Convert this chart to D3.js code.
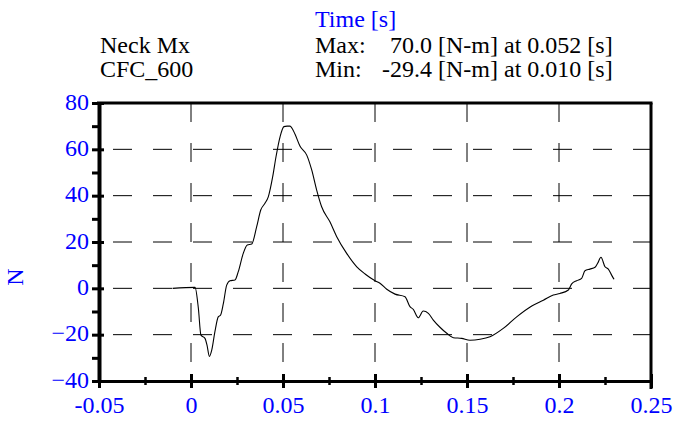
<!DOCTYPE html>
<html>
<head>
<meta charset="utf-8">
<script src="https://cdn.jsdelivr.net/npm/d3@7"></script>
<style>
  html, body { margin: 0; padding: 0; background: #fff; }
  svg { display: block; }
  text { font-family: "Liberation Serif", "Times New Roman", serif; }
</style>
</head>
<body>
<div id="chart"></div>
<script>
// ---- data ----
const timeValues = [-0.01, 0.0022, 0.0040, 0.0054, 0.0076, 0.0087, 0.0100, 0.0113, 0.0130, 0.0148,
  0.0161, 0.0176, 0.0194, 0.0212, 0.0239, 0.0257, 0.0284, 0.0306, 0.0330, 0.0357,
  0.0379, 0.0402, 0.0420, 0.0444, 0.0462, 0.0484, 0.0505, 0.0522, 0.0538, 0.0549,
  0.0565, 0.0592, 0.0629, 0.0656, 0.0683, 0.0710, 0.0755, 0.0792, 0.0846, 0.0901,
  0.0946, 0.1000, 0.1027, 0.1064, 0.1109, 0.1163, 0.1190, 0.1208, 0.1235, 0.1262,
  0.1290, 0.1317, 0.1353, 0.1390, 0.1426, 0.1471, 0.1516, 0.1571, 0.1625, 0.1697,
  0.1770, 0.1852, 0.1915, 0.1969, 0.2005, 0.2051, 0.2069, 0.2096, 0.2123, 0.2141,
  0.2168, 0.2196, 0.2210, 0.2228, 0.2250, 0.2268, 0.2286, 0.2299];
const momentValues = [0, 0.4, -8.6, -20.2, -21.6, -24.5, -29.4, -26.6, -18.7, -12.3,
  -11.5, -6.5, 1.4, 3.3, 3.6, 7.2, 15.1, 18.7, 19.1, 26.6,
  33.8, 36.7, 39.5, 48.2, 56.8, 65.4, 69.8, 70.0, 70.0, 69.1,
  66.6, 61.4, 57.5, 51.1, 42.4, 35.2, 28.7, 22.3, 15.1, 9.3,
  6.2, 3.3, 2.2, -0.4, -2.5, -3.6, -7.9, -9.1, -12.7, -9.8,
  -10.8, -13.7, -16.8, -19.4, -21.3, -21.6, -22.4, -22.0, -20.9, -17.3,
  -12.3, -7.6, -5.1, -2.9, -2.2, -0.7, 1.9, 3.3, 4.3, 7.6,
  8.3, 9.1, 10.8, 13.4, 9.3, 8.3, 5.7, 3.9];
const xMajorTicks = [-0.05, 0, 0.05, 0.1, 0.15, 0.2, 0.25];
const xMinorTicks = [-0.025, 0.025, 0.075, 0.125, 0.175, 0.225];
const yMajorTicks = [-40, -20, 0, 20, 40, 60, 80];
const yMinorTicks = [-30, -10, 10, 30, 50, 70];
const xGridValues = [0, 0.05, 0.1, 0.15, 0.2];
const yGridValues = [-20, 0, 20, 40, 60];
const xTickLabels = ["-0.05", "0", "0.05", "0.1", "0.15", "0.2", "0.25"];
const headerLeft = ["Neck Mx", "CFC_600"];
const statLabels = ["Max:", "Min:"];
const statValues = ["70.0", "-29.4"];
const statRest = ["[N-m] at 0.052 [s]", "[N-m] at 0.010 [s]"];
const xTitle = "Time [s]";
const yTitle = "N";

// ---- layout ----
const W = 675, H = 421;
const L = 99, R = 651, T = 103, B = 381;
const blue = "#0000ff";
const fs = 24;

const svg = d3.select("#chart").append("svg").attr("width", W).attr("height", H);

const x = d3.scaleLinear().domain([-0.05, 0.25]).range([L, R]);
const y = d3.scaleLinear().domain([-40, 80]).range([B, T]);

// grid
const grid = svg.append("g");
grid.selectAll("line.hg").data(yGridValues).join("line")
  .attr("x1", L).attr("x2", R)
  .attr("y1", d => y(d)).attr("y2", d => y(d))
  .attr("stroke", "#000").attr("stroke-width", 1)
  .attr("stroke-dasharray", "19 21").attr("stroke-dashoffset", 26);
grid.selectAll("line.vg").data(xGridValues).join("line")
  .attr("y1", T).attr("y2", B)
  .attr("x1", d => x(d)).attr("x2", d => x(d))
  .attr("stroke", "#000").attr("stroke-width", 1)
  .attr("stroke-dasharray", "19 21").attr("stroke-dashoffset", 0);

// curve
const pts = timeValues.map((t, i) => [t, momentValues[i]]);
const line = d3.line().x(d => x(d[0])).y(d => y(d[1])).curve(d3.curveMonotoneX);
svg.append("path").datum(pts).attr("d", line)
  .attr("fill", "none").attr("stroke", "#000").attr("stroke-width", 1.1);

// frame
svg.append("line").attr("x1", L - 2).attr("x2", R + 1.5).attr("y1", T).attr("y2", T)
  .attr("stroke", "#000").attr("stroke-width", 3);
svg.append("line").attr("x1", R).attr("x2", R).attr("y1", T).attr("y2", B + 8)
  .attr("stroke", "#000").attr("stroke-width", 3);

// x axis
const xAxisMajor = svg.append("g").attr("transform", `translate(0,${B})`)
  .call(d3.axisBottom(x).tickValues(xMajorTicks).tickSize(7).tickSizeOuter(0)
    .tickFormat((d, i) => xTickLabels[i]));
xAxisMajor.select(".domain").attr("stroke-width", 3);
xAxisMajor.selectAll(".tick line").attr("y1", -7).attr("y2", 7).attr("stroke-width", 3);
xAxisMajor.selectAll(".tick text").attr("y", 32).attr("dy", 0)
  .attr("fill", blue).style("font-size", fs + "px").style("font-family", "Liberation Serif");
const xAxisMinor = svg.append("g").attr("transform", `translate(0,${B})`)
  .call(d3.axisBottom(x).tickValues(xMinorTicks).tickSize(4).tickFormat(""));
xAxisMinor.select(".domain").remove();
xAxisMinor.selectAll(".tick line").attr("y1", -4).attr("y2", 4).attr("stroke-width", 2.5);

// y axis
const yAxisMajor = svg.append("g").attr("transform", `translate(${L},0)`)
  .call(d3.axisLeft(y).tickValues(yMajorTicks).tickSize(7).tickSizeOuter(0));
yAxisMajor.select(".domain").attr("stroke-width", 4);
yAxisMajor.selectAll(".tick line").attr("x1", -7).attr("x2", 5).attr("stroke-width", 3);
yAxisMajor.selectAll(".tick text").attr("x", -10).attr("dy", 6)
  .attr("fill", blue).style("font-size", fs + "px").style("font-family", "Liberation Serif");
const yAxisMinor = svg.append("g").attr("transform", `translate(${L},0)`)
  .call(d3.axisLeft(y).tickValues(yMinorTicks).tickSize(7).tickFormat(""));
yAxisMinor.select(".domain").remove();
yAxisMinor.selectAll(".tick line").attr("stroke-width", 3);

// titles
svg.append("text").attr("x", 315).attr("y", 27).attr("fill", blue)
  .style("font-size", fs + "px").text(xTitle);
svg.append("text").attr("transform", "translate(23,277) rotate(-90)")
  .attr("text-anchor", "middle").attr("fill", blue)
  .style("font-size", fs + "px").text(yTitle);

// header
const rowsY = [53, 77];
headerLeft.forEach((s, i) => {
  svg.append("text").attr("x", 100).attr("y", rowsY[i]).attr("fill", "#000")
    .style("font-size", fs + "px").text(s);
});
statLabels.forEach((s, i) => {
  svg.append("text").attr("x", 315).attr("y", rowsY[i]).attr("fill", "#000")
    .style("font-size", fs + "px").text(s);
  svg.append("text").attr("x", 432).attr("y", rowsY[i]).attr("text-anchor", "end")
    .attr("fill", "#000").style("font-size", fs + "px").text(statValues[i]);
  svg.append("text").attr("x", 438).attr("y", rowsY[i]).attr("fill", "#000")
    .style("font-size", fs + "px").text(statRest[i]);
});
</script>
</body>
</html>
